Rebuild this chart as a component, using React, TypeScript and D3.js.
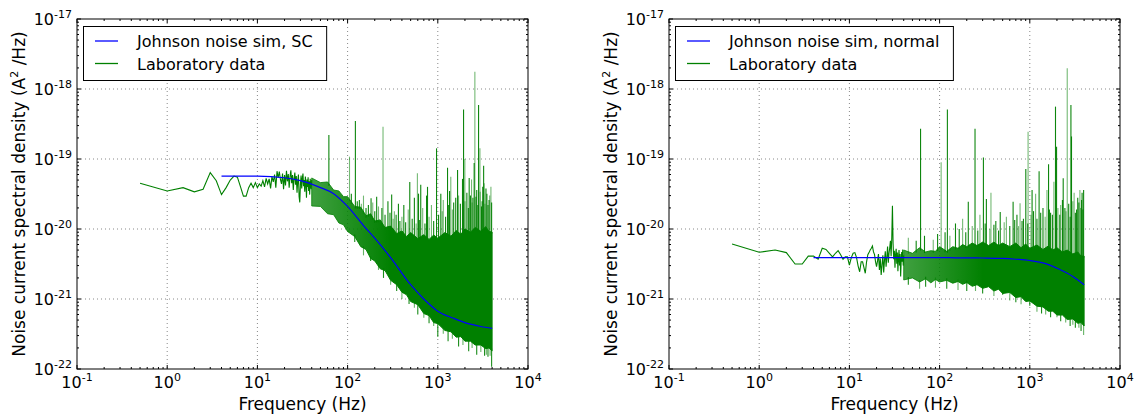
import { useLayoutEffect, useRef, useState } from 'react';
import * as d3 from 'd3';

// 0.5 Hz bins of the low-frequency part of the spectrum (0.5 .. 40 Hz)
const freqLow = d3.range(1, 81).map((k) => k * 0.5);
const leftLow = [4.5e-20, 3.5e-20, 3.9e-20, 3.4e-20, 3.7e-20, 6.4e-20, 4.9e-20, 3.1e-20, 3.9e-20, 5.0e-20,
  5.7e-20, 5.5e-20, 4.0e-20, 2.95e-20, 2.95e-20, 3.9e-20, 4.5e-20, 3.9e-20, 4.6e-20, 3.9e-20,
  4.4e-20, 4.1e-20, 4.9e-20, 4.0e-20, 5.3e-20, 4.4e-20, 5.2e-20, 3.8e-20, 5.6e-20, 4.7e-20,
  6.0e-20, 3.9e-20, 6.7e-20, 5.4e-20, 6.6e-20, 5.1e-20, 4.4e-20, 6.2e-20, 3.7e-20, 5.9e-20,
  4.2e-20, 6.8e-20, 4.8e-20, 6.1e-20, 3.9e-20, 5.6e-20, 6.9e-20, 4.5e-20, 5.9e-20, 3.6e-20,
  5.2e-20, 6.4e-20, 4.3e-20, 5.7e-20, 3.3e-20, 4.9e-20, 6.0e-20, 2.9e-20, 2.4e-20, 4.4e-20,
  5.8e-20, 3.8e-20, 5.3e-20, 6.2e-20, 4.1e-20, 5.0e-20, 3.4e-20, 5.6e-20, 4.6e-20, 2.8e-20,
  5.1e-20, 4.0e-20, 5.5e-20, 3.5e-20, 4.8e-20, 3.1e-20, 5.2e-20, 4.3e-20, 3.7e-20, 5.0e-20];
const rightLow = [6.1e-21, 4.65e-21, 5.0e-21, 4.6e-21, 3.16e-21, 3.16e-21, 4.1e-21, 4.1e-21, 3.7e-21, 5.3e-21,
  5.1e-21, 4.5e-21, 4.0e-21, 4.5e-21, 4.9e-21, 4.3e-21, 3.7e-21, 4.0e-21, 4.0e-21, 3.06e-21,
  3.9e-21, 4.5e-21, 4.6e-21, 3.9e-21, 2.95e-21, 2.45e-21, 3.4e-21, 3.4e-21, 2.8e-21, 2.33e-21,
  3.4e-21, 4.3e-21, 4.6e-21, 5.0e-21, 5.3e-21, 5.7e-21, 4.7e-21, 4.3e-21, 3.4e-21, 2.9e-21,
  3.5e-21, 4.4e-21, 2.6e-21, 3.8e-21, 2.2e-21, 3.1e-21, 4.2e-21, 2.4e-21, 3.6e-21, 4.8e-21,
  2.9e-21, 4.0e-21, 5.6e-21, 3.3e-21, 4.5e-21, 5.4e-21, 6.8e-21, 4.1e-21, 7.5e-21, 2.15e-20,
  6.2e-21, 3.7e-21, 4.9e-21, 2.8e-21, 4.3e-21, 5.2e-21, 3.2e-21, 4.6e-21, 2.5e-21, 3.9e-21,
  5.0e-21, 3.0e-21, 4.4e-21, 2.1e-21, 3.5e-21, 4.7e-21, 3.4e-21, 5.1e-21, 3.0e-21, 4.2e-21];

// dense part above 40 Hz: upper / lower edge of the noise band
const bandFreq = [40, 50, 60, 70, 80, 90, 100, 120, 140, 160, 180, 200, 230, 260, 300, 350,
  400, 450, 500, 600, 700, 800, 900, 1000, 1200, 1400, 1600, 1800, 2000, 2300, 2600, 3000, 3400, 3700, 4000];
const leftBandHi = [5.36e-20, 4.6e-20, 4.7e-20, 3.6e-20, 3.5e-20, 2.9e-20, 2.9e-20, 2.1e-20, 2.05e-20, 1.55e-20,
  1.65e-20, 1.3e-20, 1.35e-20, 1.05e-20, 1.1e-20, 8.6e-21, 9.4e-21, 7.8e-21, 8.9e-21, 7.3e-21,
  8.3e-21, 7.1e-21, 8.2e-21, 7.4e-21, 8.9e-21, 7.9e-21, 9.5e-21, 8.4e-21, 1.0e-20, 9.0e-21,
  1.05e-20, 9.3e-21, 1.08e-20, 9.2e-21, 9.06e-21];
const leftBandLo = [2.13e-20, 2.1e-20, 1.65e-20, 1.6e-20, 1.22e-20, 1.15e-20, 9.2e-21, 7.8e-21, 5.6e-21, 5.1e-21,
  3.8e-21, 3.5e-21, 2.7e-21, 2.55e-21, 1.85e-21, 1.6e-21, 1.25e-21, 1.15e-21, 9.2e-22, 8.3e-22,
  6.2e-22, 5.8e-22, 4.6e-22, 4.45e-22, 3.55e-22, 3.4e-22, 2.85e-22, 2.9e-22, 2.5e-22, 2.5e-22,
  2.2e-22, 2.2e-22, 1.95e-22, 2.0e-22, 1.81e-22];
const rightBandHi = [5.01e-21, 4.5e-21, 5.4e-21, 4.7e-21, 4.9e-21, 4.8e-21, 5.6e-21, 4.8e-21, 5.6e-21, 5.3e-21,
  6.0e-21, 5.6e-21, 6.3e-21, 5.8e-21, 6.5e-21, 5.8e-21, 6.5e-21, 5.8e-21, 6.3e-21, 5.6e-21,
  6.3e-21, 5.4e-21, 6.1e-21, 5.3e-21, 5.9e-21, 5.1e-21, 5.7e-21, 5.0e-21, 5.4e-21, 4.7e-21,
  5.0e-21, 4.4e-21, 4.7e-21, 4.1e-21, 4.11e-21];
const rightBandLo = [1.87e-21, 2.0e-21, 1.75e-21, 1.95e-21, 1.7e-21, 1.9e-21, 1.75e-21, 1.85e-21, 1.68e-21, 1.78e-21,
  1.62e-21, 1.72e-21, 1.52e-21, 1.6e-21, 1.42e-21, 1.5e-21, 1.3e-21, 1.38e-21, 1.2e-21, 1.24e-21,
  1.05e-21, 1.08e-21, 9.2e-22, 9.4e-22, 7.9e-22, 7.7e-22, 6.7e-22, 6.7e-22, 5.9e-22, 5.9e-22,
  5.1e-22, 5.2e-22, 4.5e-22, 4.6e-22, 4.11e-22];

// single bins sticking out above the band (peaks) and below it (dips)
const leftSpikeFreq = [62, 105, 122, 135, 150, 170, 182, 190, 210, 240, 247, 280, 308, 330, 366, 420, 470, 489, 550,
  594, 611, 647, 680, 750, 769, 850, 968, 1080, 1150, 1282, 1350, 1393, 1500, 1656, 1700, 1879, 1930, 1995, 2100,
  2228, 2366, 2450, 2531, 2576, 2700, 2831, 2931, 3100, 3222, 3266, 3500, 3700, 3880,
  110, 128, 142, 160, 200, 220, 260, 295, 320, 345, 380, 400, 440, 520, 575, 630, 720, 800, 900, 1020,
  1120, 1220, 1320, 1450, 1580, 1780, 2000, 2180, 2300, 2400, 2650, 2780, 2950, 3050, 3150, 3330, 3420,
  3600, 3760, 3950];
const leftSpikePeak = [2.2e-19, 1.08e-19, 3.5e-19, 2.6e-20, 3.0e-20, 2.2e-20, 2.75e-20, 2.4e-20, 2.9e-20, 2.0e-20,
  2.9e-19, 2.5e-20, 3.1e-20, 1.8e-20, 2.3e-20, 2.2e-20, 1.9e-20, 4.7e-20, 2.8e-20, 6.25e-20, 3.2e-20, 4.3e-20,
  2.0e-20, 3.0e-20, 4.0e-20, 2.2e-20, 1.42e-19, 3.2e-20, 2.6e-20, 7.5e-20, 3.5e-20, 5.6e-20, 2.4e-20, 6.97e-20,
  3.0e-20, 5.2e-20, 5.1e-19, 1.0e-19, 3.3e-20, 5.36e-20, 5.1e-20, 2.8e-20, 8.77e-20, 1.77e-18, 3.6e-20, 5.9e-19,
  1.42e-19, 2.5e-20, 8e-20, 4.5e-20, 3.2e-20, 2.6e-20, 4.0e-20,
  3.2e-20, 2.5e-20, 2.3e-20, 2.0e-20, 1.8e-20, 2.1e-20, 1.6e-20, 1.7e-20, 1.4e-20, 1.6e-20, 1.3e-20, 1.5e-20,
  1.25e-20, 1.4e-20, 1.2e-20, 1.35e-20, 1.2e-20, 1.5e-20, 1.3e-20, 1.6e-20, 1.8e-20, 1.5e-20, 2.2e-20, 1.9e-20,
  2.8e-20, 2.3e-20, 2.5e-20, 2.0e-20, 3.0e-20, 2.4e-20, 2.9e-20, 2.2e-20, 3.4e-20, 2.1e-20, 4.0e-20, 2.3e-20,
  3.8e-20, 2.2e-20, 3.0e-20, 2.4e-20];
const leftDipFreq = [120, 150, 180, 220, 250, 300, 350, 400, 480, 550, 600, 700, 800, 900, 1000, 1150, 1300, 1450,
  1700, 1900, 2200, 2400, 2700, 3000, 3300, 3450, 3600, 3800, 3950];
const leftDipLow = [6.5e-21, 4.2e-21, 3.5e-21, 2.6e-21, 2.0e-21, 1.6e-21, 1.3e-21, 1.0e-21, 8.5e-22, 7.5e-22,
  6.0e-22, 5.4e-22, 4.5e-22, 4.1e-22, 2.9e-22, 3.2e-22, 2.5e-22, 2.7e-22, 2.1e-22, 2.2e-22, 1.8e-22, 2.0e-22,
  1.6e-22, 1.75e-22, 1.55e-22, 1.6e-22, 1.5e-22, 1.55e-22, 1.08e-22];

const rightSpikeFreq = [61.5, 104, 122, 150, 180, 208, 247, 280, 306, 330, 371, 420, 470, 550, 653, 720,
  780, 850, 903, 957, 1060, 1100, 1160, 1268, 1400, 1550, 1614, 1700, 1850, 1927, 1980, 2200, 2346, 2450, 2600,
  2857, 2900, 3100, 3300, 3500, 3593, 3800, 3950,
  45, 55, 68, 85, 95, 115, 130, 165, 195, 230, 265, 320, 360, 400, 450, 520, 600, 680, 750, 820, 950, 1030,
  1200, 1320, 1480, 1650, 1780, 2050, 2150, 2300, 2520, 2700, 2800, 3000, 3200, 3400, 3650, 3750, 3880];
const rightSpikePeak = [2.7e-19, 9.0e-20, 5.1e-19, 1.2e-20, 1.4e-20, 2.45e-20, 2.7e-19,
  1.6e-20, 1.05e-19, 2.68e-20, 3.3e-20, 1.3e-20, 1.75e-20, 1.5e-20, 2.45e-20, 1.6e-20, 2.33e-20, 1.4e-20, 7.2e-20,
  2.45e-19, 3.6e-20, 1.8e-20, 3.2e-20, 6.7e-20, 2.0e-20, 3.6e-20, 8.4e-20, 1.7e-20, 4.74e-20, 5.6e-19, 1.5e-19,
  2.2e-20, 5.3e-20, 2.0e-20, 1.98e-18, 5.9e-19, 2.1e-19, 3.3e-20, 1.9e-20, 2.4e-20, 3.6e-20, 3.3e-20, 3.6e-20,
  7.5e-21, 6.8e-21, 8e-21, 7e-21, 8.5e-21, 9e-21, 8e-21, 1.0e-20, 9e-21, 1.1e-20, 9.5e-21, 1.2e-20, 1.0e-20,
  1.15e-20, 9.5e-21, 1.25e-20, 1.1e-20, 1.35e-20, 1.1e-20, 1.3e-20, 1.2e-20, 1.6e-20, 1.4e-20, 1.7e-20, 1.5e-20,
  1.9e-20, 1.6e-20, 2.0e-20, 1.6e-20, 2.6e-20, 1.8e-20, 2.3e-20, 1.5e-20, 2.5e-20, 1.7e-20, 2.8e-20, 2.0e-20,
  2.6e-20, 1.9e-20];
const rightDipFreq = [45, 60, 70, 90, 120, 160, 200, 250, 300, 400, 500, 600, 700, 800, 1000, 1200, 1350, 1500,
  1700, 2000, 2200, 2500, 2800, 3000, 3200, 3500, 3700, 3950];
const rightDipLow = [1.6e-21, 1.4e-21, 1.5e-21, 1.45e-21, 1.4e-21, 1.35e-21, 1.3e-21, 1.3e-21, 1.2e-21, 1.1e-21,
  1.15e-21, 9.5e-22, 9e-22, 8.4e-22, 8.0e-22, 6.6e-22, 6.2e-22, 6.0e-22, 5.5e-22, 5.5e-22, 4.8e-22, 4.6e-22,
  4.1e-22, 4.3e-22, 3.9e-22, 3.9e-22, 3.5e-22, 3.06e-22];

// Johnson noise simulation
const simFreq = [4, 10, 20, 30, 50, 70, 100, 150, 200, 300, 500, 700, 1000, 1500, 2000, 3000, 4000];
const leftSim = [5.7e-20, 5.7e-20, 5.4e-20, 4.9e-20, 3.9e-20, 3.2e-20, 2.1e-20, 1.12e-20, 7.4e-21, 3.9e-21,
  1.6e-21, 1.0e-21, 6.7e-22, 5.3e-22, 4.6e-22, 4.05e-22, 3.8e-22];
const rightSim = [3.9e-21, 3.9e-21, 3.9e-21, 3.9e-21, 3.9e-21, 3.9e-21, 3.9e-21, 3.88e-21, 3.87e-21, 3.85e-21,
  3.8e-21, 3.7e-21, 3.55e-21, 3.2e-21, 2.75e-21, 2.1e-21, 1.6e-21];

const xTickExp = [-1, 0, 1, 2, 3, 4];
const yTickExp = [-22, -21, -20, -19, -18, -17];

const W = 1134;
const H = 417;
const PW = 451;
const PH = 350;
const TOP = 19;
const GREEN = '#008000';
const BLUE = '#0000ff';
const FONT = '"DejaVu Sans", sans-serif';

function Panel({ left, low, bandHi, bandLo, spikeF, spikeV, dipF, dipV, sim, simLabel, id }) {
  const labelRef = useRef<SVGTextElement>(null);
  const [legendW, setLegendW] = useState(220);
  useLayoutEffect(() => {
    if (labelRef.current) setLegendW(labelRef.current.getBBox().width + 53.5 + 13);
  }, []);

  const x = d3.scaleLog().domain([1e-1, 1e4]).range([left, left + PW]);
  const y = d3.scaleLog().domain([1e-22, 1e-17]).range([TOP + PH, TOP]);

  const lowLine = d3.line<number>().x((_, i) => x(freqLow[i])).y((d) => y(d));
  const band = d3.area<number>()
    .x((_, i) => x(bandFreq[i]))
    .y0((d) => y(d))
    .y1((_, i) => y(bandHi[i]));
  const simLine = d3.line<number>()
    .x((_, i) => x(simFreq[i]))
    .y((d) => y(d))
    .curve(d3.curveMonotoneX);
  const hiAt = d3.scaleLog().domain(bandFreq).range(bandHi.map((v) => y(v))).clamp(true);
  const loAt = d3.scaleLog().domain(bandFreq).range(bandLo.map((v) => y(v))).clamp(true);

  const minorX = d3.range(-1, 4).flatMap((e) => d3.range(2, 10).map((k) => k * 10 ** e));
  const minorY = d3.range(-22, -17).flatMap((e) => d3.range(2, 10).map((k) => k * 10 ** e));
  const right = left + PW;
  const bottom = TOP + PH;

  return (
    <g>
      <defs>
        <clipPath id={id}>
          <rect x={left} y={TOP} width={PW} height={PH} />
        </clipPath>
        <linearGradient id={id + 'g'} gradientUnits="userSpaceOnUse" x1={x(40)} x2={x(300)} y1={0} y2={0}>
          <stop offset="0" stopColor={GREEN} stopOpacity={0.75} />
          <stop offset="1" stopColor={GREEN} stopOpacity={1} />
        </linearGradient>
      </defs>
      {/* grid */}
      <g stroke="#888" strokeWidth={1} strokeDasharray="1 3">
        {xTickExp.slice(1, -1).map((e) => (
          <line key={'gx' + e} x1={x(10 ** e)} x2={x(10 ** e)} y1={TOP} y2={bottom} />
        ))}
        {yTickExp.slice(1, -1).map((e) => (
          <line key={'gy' + e} x1={left} x2={right} y1={y(10 ** e)} y2={y(10 ** e)} />
        ))}
      </g>
      <g clipPath={`url(#${id})`}>
        <path d={band(bandLo)} fill={`url(#${id}g)`} stroke={`url(#${id}g)`} strokeWidth={1} />
        <path d={lowLine(low)} fill="none" stroke={GREEN} strokeWidth={1.1} />
        {spikeF.map((f, i) => (
          <line key={'s' + i} x1={x(f)} x2={x(f)} y1={hiAt(f) + 2} y2={y(spikeV[i])}
            stroke={GREEN} strokeWidth={1.1} strokeOpacity={i % 3 === 1 ? 0.55 : 0.95} />
        ))}
        {dipF.map((f, i) => (
          <line key={'d' + i} x1={x(f)} x2={x(f)} y1={loAt(f) - 2} y2={y(dipV[i])}
            stroke={GREEN} strokeWidth={1.1} strokeOpacity={i % 2 === 1 ? 0.6 : 0.9} />
        ))}
        <path d={simLine(sim)} fill="none" stroke={BLUE} strokeWidth={1.2} />
      </g>
      {/* ticks on all four sides, pointing in */}
      <g stroke="#000" strokeWidth={1}>
        {xTickExp.map((e) => (
          <g key={'tx' + e}>
            <line x1={x(10 ** e)} x2={x(10 ** e)} y1={bottom} y2={bottom - 4} />
            <line x1={x(10 ** e)} x2={x(10 ** e)} y1={TOP} y2={TOP + 4} />
          </g>
        ))}
        {minorX.map((v) => (
          <g key={'mx' + v}>
            <line x1={x(v)} x2={x(v)} y1={bottom} y2={bottom - 2} />
            <line x1={x(v)} x2={x(v)} y1={TOP} y2={TOP + 2} />
          </g>
        ))}
        {yTickExp.map((e) => (
          <g key={'ty' + e}>
            <line x1={left} x2={left + 4} y1={y(10 ** e)} y2={y(10 ** e)} />
            <line x1={right} x2={right - 4} y1={y(10 ** e)} y2={y(10 ** e)} />
          </g>
        ))}
        {minorY.map((v) => (
          <g key={'my' + v}>
            <line x1={left} x2={left + 2} y1={y(v)} y2={y(v)} />
            <line x1={right} x2={right - 2} y1={y(v)} y2={y(v)} />
          </g>
        ))}
      </g>
      <rect x={left} y={TOP} width={PW} height={PH} fill="none" stroke="#000" strokeWidth={1} />
      {/* tick labels */}
      <g fontFamily={FONT} fill="#000">
        {xTickExp.map((e) => (
          <text key={'lx' + e} x={x(10 ** e)} y={388} textAnchor="middle" fontSize={16}>
            10<tspan dy={-7} fontSize={11}>{String(e)}</tspan>
          </text>
        ))}
        {yTickExp.map((e) => (
          <text key={'ly' + e} x={left - 5} y={y(10 ** e) + 5.5} textAnchor="end" fontSize={16}>
            10<tspan dy={-7} fontSize={11}>{String(e)}</tspan>
          </text>
        ))}
        <text x={left + PW / 2} y={410} textAnchor="middle" fontSize={17}>Frequency (Hz)</text>
        <text transform={`translate(${left - 52},${TOP + PH / 2}) rotate(-90)`} textAnchor="middle" fontSize={17}>
          Noise current spectral density (A<tspan dy={-7} fontSize={11}>2</tspan>
          <tspan dy={7}> /Hz)</tspan>
        </text>
      </g>
      {/* legend */}
      <g fontFamily={FONT}>
        <rect x={left + 6.5} y={26.5} width={legendW} height={54} fill="#fff" stroke="#000" strokeWidth={1} />
        <line x1={left + 18} x2={left + 41} y1={41} y2={41} stroke={BLUE} strokeWidth={1.3} />
        <line x1={left + 18} x2={left + 41} y1={63.5} y2={63.5} stroke={GREEN} strokeWidth={1.3} />
        <text ref={labelRef} x={left + 60} y={46.5} fontSize={16}>{simLabel}</text>
        <text x={left + 60} y={69.5} fontSize={16}>Laboratory data</text>
      </g>
    </g>
  );
}

export default function App() {
  return (
    <svg width={W} height={H} viewBox={`0 0 ${W} ${H}`}
      style={{ position: 'absolute', left: 0, top: 0, background: '#fff' }}>
      <rect width={W} height={H} fill="#fff" />
      <Panel id="clipL" left={77} low={leftLow} bandHi={leftBandHi} bandLo={leftBandLo}
        spikeF={leftSpikeFreq} spikeV={leftSpikePeak} dipF={leftDipFreq} dipV={leftDipLow}
        sim={leftSim} simLabel="Johnson noise sim, SC" />
      <Panel id="clipR" left={669} low={rightLow} bandHi={rightBandHi} bandLo={rightBandLo}
        spikeF={rightSpikeFreq} spikeV={rightSpikePeak} dipF={rightDipFreq} dipV={rightDipLow}
        sim={rightSim} simLabel="Johnson noise sim, normal" />
    </svg>
  );
}
